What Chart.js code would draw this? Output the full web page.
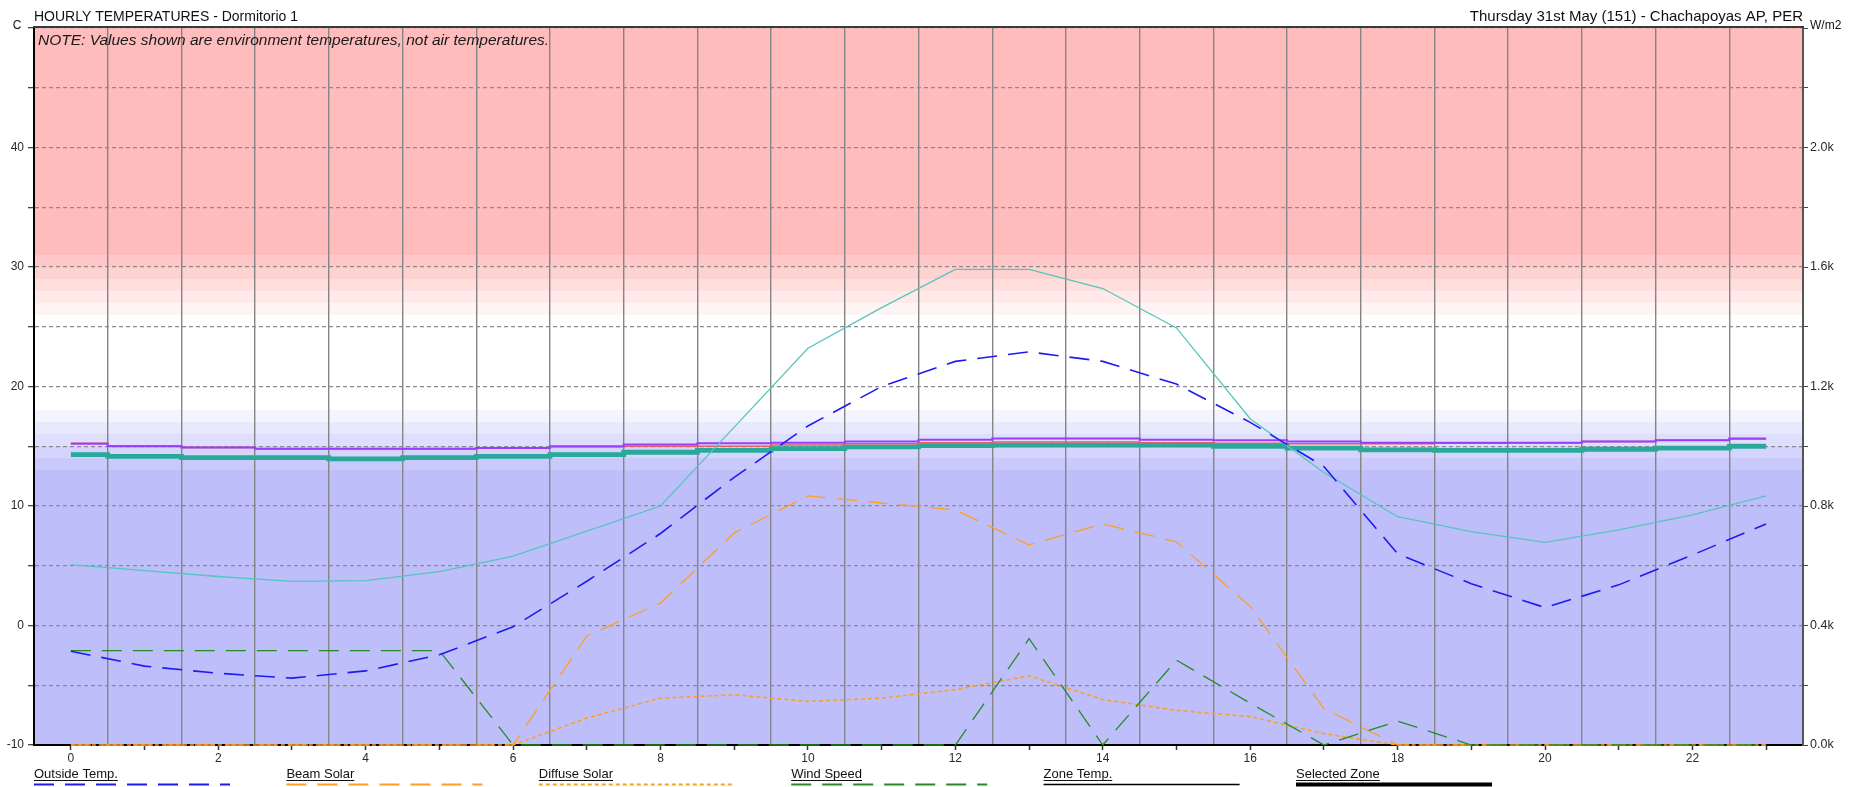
<!DOCTYPE html>
<html>
<head>
<meta charset="utf-8">
<title>Hourly temperatures - Dormitorio 1</title>
<script src="https://cdn.jsdelivr.net/npm/chart.js@4.4.1/dist/chart.umd.min.js"></script>
<style>
  html, body { margin: 0; padding: 0; background: #ffffff; overflow: hidden; }
  #wrap { width: 1863px; height: 787px; }
</style>
</head>
<body>
<div id="wrap"><canvas id="chart" width="1863" height="787"></canvas></div>
<script>
// ---- hourly data, 31 May ----
const hours = [0, 1, 2, 3, 4, 5, 6, 7, 8, 9, 10, 11, 12, 13, 14, 15, 16, 17, 18, 19, 20, 21, 22, 23];

// temperatures, C
const outsideTemp = [-2.15, -3.4, -4.0, -4.4, -3.8, -2.45, -0.1, 3.7, 7.7, 12.4, 16.7, 20.0, 22.1, 22.9, 22.1, 20.2, 17.0, 13.3, 6.0, 3.5, 1.5, 3.4, 5.9, 8.5];
const zoneTempA = [5.1, 4.6, 4.1, 3.7, 3.75, 4.5, 5.8, 7.9, 10.0, 16.6, 23.2, 26.6, 29.8, 29.8, 28.2, 24.9, 17.3, 12.8, 9.1, 7.85, 6.95, 8.0, 9.25, 10.85];
const zoneTempB = [15.2, 15.0, 14.9, 14.8, 14.8, 14.8, 14.85, 15.0, 15.15, 15.25, 15.3, 15.4, 15.55, 15.65, 15.65, 15.55, 15.5, 15.4, 15.3, 15.3, 15.3, 15.4, 15.5, 15.65];
const zoneTempC = [15.25, 15.05, 14.9, 14.8, 14.8, 14.8, 14.85, 14.95, 15.0, 15.0, 15.1, 15.2, 15.3, 15.35, 15.35, 15.3, 15.25, 15.2, 15.2, 15.25, 15.3, 15.4, 15.5, 15.6];
const selectedZone = [14.3, 14.15, 14.05, 14.05, 13.95, 14.05, 14.15, 14.3, 14.5, 14.65, 14.8, 14.95, 15.05, 15.1, 15.1, 15.1, 15.0, 14.85, 14.7, 14.65, 14.65, 14.75, 14.85, 15.0];

// solar radiation, W/m2
const beamSolar = [0, 0, 0, 0, 0, 0, 0, 365, 475, 710, 834, 810, 787, 670, 740, 680, 464, 122, 0, 0, 0, 0, 0, 0];
const diffuseSolar = [0, 0, 0, 0, 0, 0, 0, 90, 157, 168, 146, 157, 185, 232, 152, 116, 95, 38, 0, 0, 0, 0, 0, 0];

// wind speed, m/s
const windSpeed = [3.95, 3.95, 3.95, 3.95, 3.95, 3.95, 0, 0, 0, 0, 0, 0, 0, 4.45, 0, 3.55, 1.75, 0, 1.0, 0, 0, 0, 0, 0];

// axis ranges and tick labels
const tempRange = [-10, 50];
const solarRange = [0, 2400];
const windRange = [0, 30];
const hourRange = [-0.5, 23.5];
const halfHours = hours.slice(1).map(h => h - 0.5);

const titleText = 'HOURLY TEMPERATURES - Dormitorio 1';
const subtitleText = 'Thursday 31st May (151) - Chachapoyas AP, PER';
const noteText = 'NOTE: Values shown are environment temperatures, not air temperatures.';
const leftUnit = 'C';
const rightUnit = 'W/m2';

// ---- styling ----
const FONT = "'Liberation Sans', Arial, sans-serif";
const BLUE = '#1c1cf2';
const ORANGE = '#ff9f1f';
const GREEN = '#238c23';
const CYAN = '#55c6bd';
const PURPLE = '#9a3cff';
const RED = '#e06060';
const TEAL = '#2aa99a';

const WARM = [255, 188, 188];
const COOL = [190, 190, 250];

const legendItems = [
  { text: 'Outside Temp.', color: BLUE, dash: [20, 11], width: 2 },
  { text: 'Beam Solar', color: ORANGE, dash: [20, 11], width: 2 },
  { text: 'Diffuse Solar', color: ORANGE, dash: [4, 3], width: 2 },
  { text: 'Wind Speed', color: GREEN, dash: [20, 11], width: 2 },
  { text: 'Zone Temp.', color: '#000000', dash: [], width: 1.5 },
  { text: 'Selected Zone', color: '#000000', dash: [], width: 4 }
];

Chart.defaults.font.family = FONT;
Chart.defaults.font.size = 12;
Chart.defaults.color = '#2a2a2a';

function mix(c, t) {
  // t = share of colour c blended with white
  const v = c.map(ch => Math.round(255 - (255 - ch) * t));
  return `rgb(${v[0]},${v[1]},${v[2]})`;
}

function line(label, values, axis, color, width, dash, extra) {
  return Object.assign({
    label,
    data: values,
    yAxisID: axis,
    borderColor: color,
    backgroundColor: color,
    borderWidth: width,
    borderDash: dash,
    pointRadius: 0,
    pointHoverRadius: 0,
    fill: false,
    tension: 0,
    clip: 6
  }, extra || {});
}

// comfort colour zones behind the plot, drawn through the temperature scale
const backdrop = {
  id: 'backdrop',
  beforeDraw(chart) {
    const { ctx, chartArea: a } = chart;
    const y = chart.scales.y;
    const band = (from, to, color) => {
      const top = Math.round(y.getPixelForValue(to));
      const bottom = Math.round(y.getPixelForValue(from));
      ctx.fillStyle = color;
      ctx.fillRect(a.left, top, a.right - a.left, bottom - top);
    };
    ctx.save();
    band(tempRange[0], 13, mix(COOL, 1));
    for (let i = 0; i < 5; i++) band(13 + i, 14 + i, mix(COOL, (5 - i) / 6));
    band(18, 26, '#ffffff');
    for (let i = 0; i < 5; i++) band(26 + i, 27 + i, mix(WARM, (i + 1) / 6));
    band(31, tempRange[1], mix(WARM, 1));
    ctx.restore();
  },
  afterDraw(chart) {
    const { ctx, chartArea: a } = chart;
    ctx.save();

    // frame top edge
    ctx.strokeStyle = '#3a3a3a';
    ctx.lineWidth = 2;
    ctx.beginPath();
    ctx.moveTo(a.left - 1, a.top - 1);
    ctx.lineTo(a.right + 1, a.top - 1);
    ctx.stroke();

    ctx.fillStyle = '#111';
    ctx.textBaseline = 'middle';
    ctx.font = `14px ${FONT}`;
    ctx.textAlign = 'left';
    ctx.fillText(titleText, a.left, 17);
    ctx.font = `15px ${FONT}`;
    ctx.textAlign = 'right';
    ctx.fillText(subtitleText, a.right, 17);

    ctx.font = `12px ${FONT}`;
    ctx.textAlign = 'center';
    ctx.fillText(leftUnit, 17, 26);
    ctx.textAlign = 'left';
    ctx.fillText(rightUnit, a.right + 7, 26);

    ctx.font = `italic 15.5px ${FONT}`;
    ctx.fillStyle = '#1a1a1a';
    ctx.fillText(noteText, a.left + 4, 41);

    // legend along the bottom
    const step = 252.4;
    legendItems.forEach((item, i) => {
      const x = a.left + i * step;
      ctx.font = `13px ${FONT}`;
      ctx.fillStyle = '#111';
      ctx.textAlign = 'left';
      ctx.textBaseline = 'middle';
      ctx.fillText(item.text, x, 774.5);
      const w = ctx.measureText(item.text).width;
      ctx.strokeStyle = '#111';
      ctx.lineWidth = 1;
      ctx.setLineDash([]);
      ctx.beginPath();
      ctx.moveTo(x, 780.5);
      ctx.lineTo(x + w, 780.5);
      ctx.stroke();
      ctx.strokeStyle = item.color;
      ctx.lineWidth = item.width;
      ctx.setLineDash(item.dash);
      ctx.beginPath();
      ctx.moveTo(x, 784.5);
      ctx.lineTo(x + 196, 784.5);
      ctx.stroke();
    });
    ctx.restore();
  }
};

const chart = new Chart(document.getElementById('chart'), {
  type: 'line',
  data: {
    labels: hours,
    datasets: [
      line('Outside Temp.', outsideTemp, 'y', BLUE, 1.6, [20, 11]),
      line('Wind Speed', windSpeed, 'yWind', GREEN, 1.3, [20, 11]),
      line('Beam Solar', beamSolar, 'yW', ORANGE, 1.3, [20, 11]),
      line('Diffuse Solar', diffuseSolar, 'yW', ORANGE, 1.6, [4, 3]),
      line('Zone Temp. A', zoneTempA, 'y', CYAN, 1.3, []),
      line('Zone Temp. B', zoneTempB, 'y', PURPLE, 2, [], { stepped: 'middle' }),
      line('Zone Temp. C', zoneTempC, 'y', RED, 1.5, [], { stepped: 'middle' }),
      line('Selected Zone', selectedZone, 'y', TEAL, 4.8, [], { stepped: 'middle' })
    ]
  },
  options: {
    responsive: false,
    animation: false,
    events: [],
    layout: { padding: { top: 28, left: 0, right: 0, bottom: 0 } },
    plugins: {
      legend: { display: false },
      tooltip: { enabled: false },
      title: { display: false }
    },
    scales: {
      x: {
        type: 'linear',
        position: 'bottom',
        min: hourRange[0],
        max: hourRange[1],
        afterBuildTicks: s => { s.ticks = hours.map(v => ({ value: v })); },
        afterFit: s => { s.height = 42; },
        ticks: {
          autoSkip: false,
          maxRotation: 0,
          padding: 1,
          color: '#2a2a2a',
          callback: v => (v % 2 === 0 ? String(v) : '')
        },
        grid: { drawOnChartArea: false, tickLength: 5, tickColor: '#333', tickWidth: 1.5 },
        border: { display: true, color: '#000', width: 2 }
      },
      xGrid: {
        type: 'linear',
        position: 'bottom',
        min: hourRange[0],
        max: hourRange[1],
        afterBuildTicks: s => { s.ticks = halfHours.map(v => ({ value: v })); },
        afterFit: s => { s.height = 0; },
        ticks: { display: false },
        grid: { drawTicks: false, color: '#858585', lineWidth: 1.4 },
        border: { display: false }
      },
      y: {
        type: 'linear',
        position: 'left',
        min: tempRange[0],
        max: tempRange[1],
        afterFit: s => { s.width = 34; },
        ticks: {
          stepSize: 5,
          padding: 4,
          color: '#2a2a2a',
          callback: v => (v % 10 === 0 && v < tempRange[1] ? String(v) : '')
        },
        grid: { color: '#8a8a8a', lineWidth: 1.3, tickLength: 6, tickColor: '#444' },
        border: { display: true, color: '#000', width: 2, dash: [4, 3] }
      },
      yW: {
        type: 'linear',
        position: 'right',
        min: solarRange[0],
        max: solarRange[1],
        afterFit: s => { s.width = 60; },
        ticks: {
          stepSize: 200,
          padding: 2,
          color: '#2a2a2a',
          font: { size: 12.5 },
          callback: v => (v % 400 === 0 && v < solarRange[1] ? (v / 1000).toFixed(1) + 'k' : '')
        },
        grid: { drawOnChartArea: false, tickLength: 5, tickColor: '#444' },
        border: { display: true, color: '#555', width: 2 }
      },
      yWind: {
        type: 'linear',
        display: false,
        min: windRange[0],
        max: windRange[1]
      }
    }
  },
  plugins: [backdrop]
});
</script>
</body>
</html>
